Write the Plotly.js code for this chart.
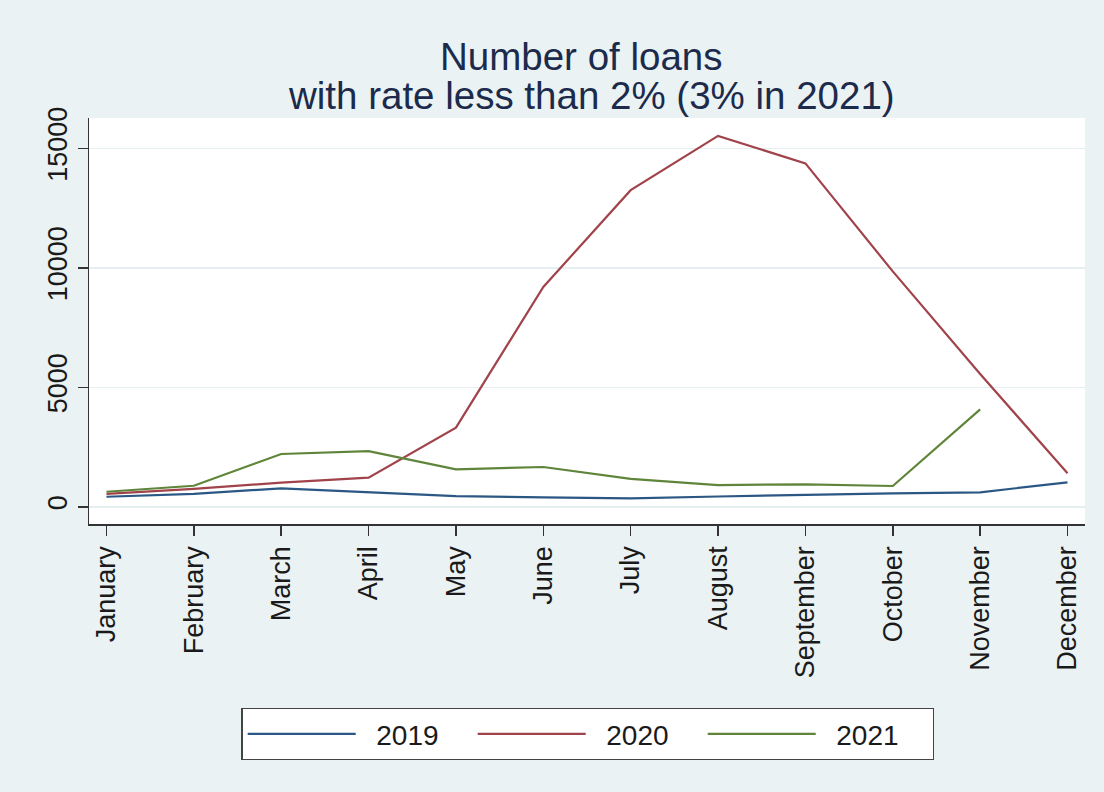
<!DOCTYPE html>
<html>
<head>
<meta charset="utf-8">
<script src="https://cdn.plot.ly/plotly-3.0.1.min.js"></script>
<style>html,body{margin:0;padding:0;background:#eaf2f3;}#chart{width:1104px;height:792px;}</style>
</head>
<body>
<div id="chart"></div>
<script>
const months = ["January","February","March","April","May","June","July","August","September","October","November","December"];
const seriesNames = ["2019","2020","2021"];
const loans2019 = [420, 540, 770, 605, 450, 395, 355, 430, 505, 565, 605, 1025];
const loans2020 = [540, 750, 1010, 1220, 3310, 9200, 13250, 15520, 14370, 9850, 5560, 1400];
const loans2021 = [630, 880, 2210, 2330, 1570, 1665, 1165, 910, 940, 870, 4080, null];
const yTicks = [0, 5000, 10000, 15000];
const titleLines = ["Number of loans", "with rate less than 2% (3% in 2021)"];

const colors = ["#2a5784", "#a0434a", "#5f853a"];
const allSeries = [loans2019, loans2020, loans2021];

const traces = allSeries.map((vals, i) => ({
  type: "scatter",
  mode: "lines",
  x: months,
  y: vals,
  name: "\u00a0\u00a0" + seriesNames[i],
  line: {color: colors[i], width: 2.2},
  connectgaps: false
}));

const font = "Liberation Sans, Arial, sans-serif";

const layout = {
  width: 1104,
  height: 792,
  paper_bgcolor: "#eaf2f3",
  plot_bgcolor: "#ffffff",
  margin: {l: 89, r: 19, t: 118, b: 268},
  showlegend: true,
  font: {family: font, color: "#1a1a1a"},
  xaxis: {
    type: "category",
    range: [-0.2, 11.2],
    tickangle: -90,
    ticks: "outside",
    ticklen: 10,
    tickwidth: 1.5,
    tickcolor: "#333333",
    showline: true,
    linecolor: "#333333",
    linewidth: 1.5,
    showgrid: false,
    zeroline: false,
    tickfont: {family: font, size: 27, color: "#1a1a1a"}
  },
  yaxis: {
    range: [-720, 16270],
    tickvals: yTicks,
    tickformat: "d",
    tickangle: -90,
    ticks: "outside",
    ticklen: 10,
    tickwidth: 1.5,
    tickcolor: "#333333",
    showline: true,
    linecolor: "#333333",
    linewidth: 1.5,
    showgrid: true,
    gridcolor: "#e6eff0",
    gridwidth: 1.5,
    zeroline: false,
    tickfont: {family: font, size: 27, color: "#1a1a1a"}
  },
  legend: {
    orientation: "h",
    x: 0.501,
    xanchor: "center",
    y: -0.453,
    yanchor: "top",
    bgcolor: "#ffffff",
    bordercolor: "#444444",
    borderwidth: 1.2,
    itemwidth: 108,
    entrywidth: 107,
    entrywidthmode: "pixels",
    font: {family: font, size: 28, color: "#1a1a1a"}
  },
  annotations: [
    {text: titleLines[0], xref: "paper", yref: "paper", x: 0.494, y: 1.152, xanchor: "center", yanchor: "middle", showarrow: false,
     font: {family: font, size: 38.5, color: "#1c2a4c"}},
    {text: titleLines[1], xref: "paper", yref: "paper", x: 0.505, y: 1.056, xanchor: "center", yanchor: "middle", showarrow: false,
     font: {family: font, size: 38.5, color: "#1c2a4c"}}
  ]
};

Plotly.newPlot("chart", traces, layout, {displayModeBar: false, staticPlot: true});
</script>
</body>
</html>
